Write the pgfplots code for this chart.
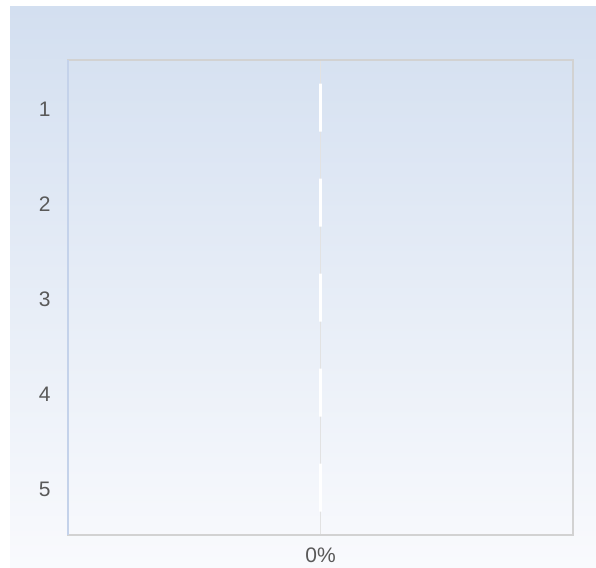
\documentclass[border=0pt]{standalone}
\usepackage{pgfplots}
\pgfplotsset{compat=1.18}
\usepackage{fontspec}
\setmainfont{Liberation Sans}
\definecolor{bgtop}{RGB}{211,223,240}
\definecolor{bgbot}{RGB}{249,250,253}
\definecolor{frame}{RGB}{210,210,210}
\definecolor{leftline}{RGB}{196,210,234}
\definecolor{gridc}{RGB}{226,226,226}
\definecolor{labelc}{RGB}{89,89,89}
\begin{document}
\begin{tikzpicture}[x=1pt,y=1pt]
\fill[white] (0,0) rectangle (596,567);
\shade[top color=bgtop, bottom color=bgbot] (10,0) rectangle (596,560);
\begin{axis}[
	at={(68pt,32pt)}, anchor=south west,
	scale only axis,
	width=505pt, height=475pt,
	xmin=-1, xmax=1,
	ymin=0.5, ymax=5.5,
	y dir=reverse,
	xbar, bar width=48pt,
	xtick={0}, xticklabels={0\%},
	ytick={1,2,3,4,5},
	/pgf/number format/assume math mode=true,
	major tick length=0pt,
	xmajorgrids, grid style={gridc, line width=1.2pt},
	axis line style={frame, line width=1.2pt},
	tick label style={font=\fontsize{21}{21}\selectfont, text=labelc},
	xticklabel style={yshift=-9pt},
	yticklabel style={xshift=-14pt, yshift=-2pt},
	clip=false,
]
\addplot[fill=white, draw=white, line width=3pt] coordinates {
	(0,1) (0,2) (0,3) (0,4) (0,5)};
\draw[leftline, line width=1.2pt] (rel axis cs:0,0) -- (rel axis cs:0,1);
\end{axis}
\end{tikzpicture}
\end{document}
